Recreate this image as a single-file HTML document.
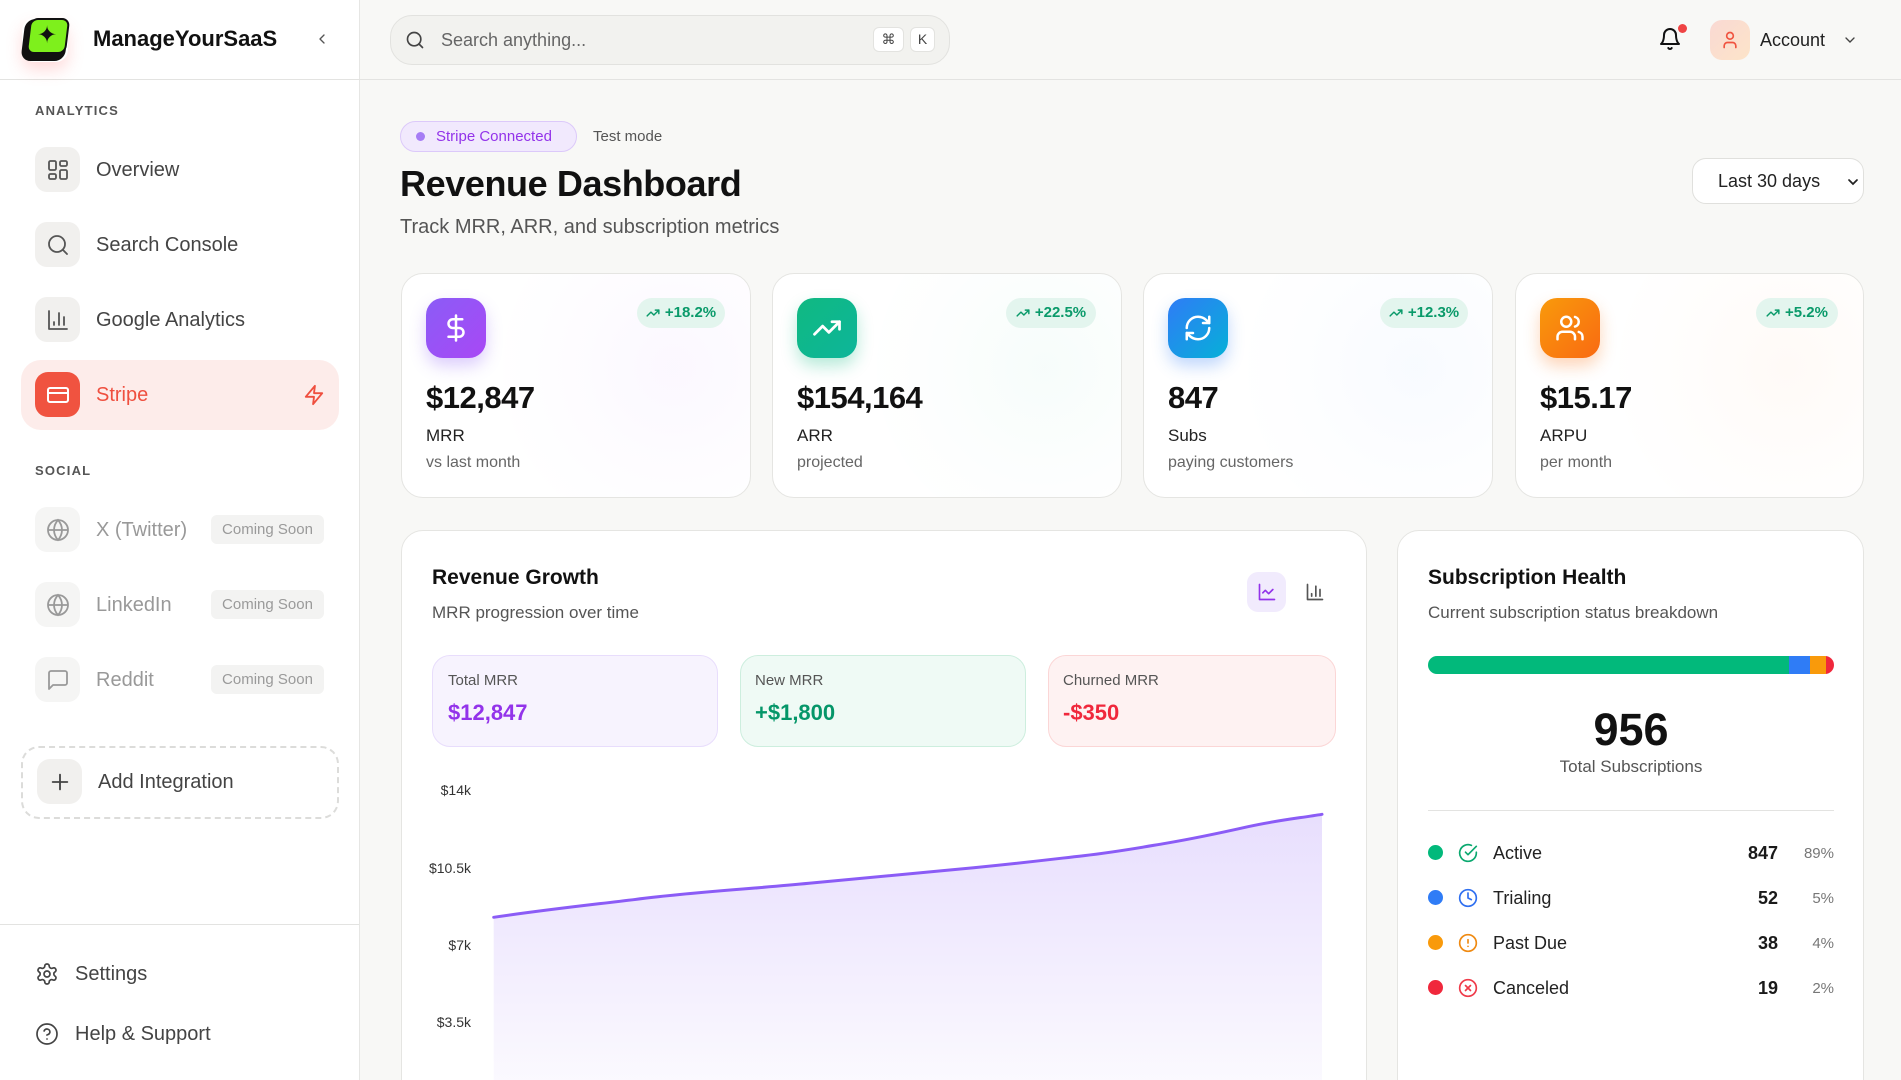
<!DOCTYPE html>
<html><head><meta charset="utf-8">
<style>
*{margin:0;padding:0;box-sizing:border-box}
html,body{width:1901px;height:1080px;overflow:hidden}
body{background:#f8f8f6;font-family:"Liberation Sans",sans-serif;color:#222;position:relative}
.a{position:absolute}
.t{position:absolute;white-space:nowrap;line-height:1}
svg{display:block}
.ib{position:absolute;width:45px;height:45px;border-radius:12px;background:#f1f0ee;display:flex;align-items:center;justify-content:center}
.nav{font-size:20px;color:#444}
.soon{position:absolute;left:211px;width:113px;height:29px;border-radius:6px;background:#f3f3f2;color:#9a9a9a;font-size:15px;line-height:29px;text-align:center}
.card{position:absolute;background:#fff;border:1px solid #e5e5e2;border-radius:22px;overflow:hidden}
.kicon{position:absolute;width:60px;height:60px;border-radius:17px;display:flex;align-items:center;justify-content:center}
.badge{position:absolute;top:298px;height:30px;border-radius:15px;background:#e3f5ee;color:#0a9a6a;font-size:15px;font-weight:bold;line-height:30px;display:flex;align-items:center;justify-content:center;gap:5px}
.kv{font-size:31px;font-weight:bold;color:#111;letter-spacing:-0.5px}
.kl{font-size:17px;color:#222}
.ks{font-size:16px;color:#666}
.mini{position:absolute;top:655px;height:92px;border-radius:18px}
.ml{font-size:15px;color:#555}
.mv{font-size:22px;font-weight:bold}
.yl{position:absolute;width:80px;left:391px;text-align:right;font-size:14px;color:#333;line-height:1}
.row{font-size:18px;color:#222}
.dot{position:absolute;left:1428px;width:15px;height:15px;border-radius:50%}
.cnt{position:absolute;width:80px;left:1698px;text-align:right;font-size:18px;font-weight:bold;color:#1a1a1a;line-height:1}
.pct{position:absolute;width:60px;left:1774px;text-align:right;font-size:15px;color:#777;line-height:1}
</style></head><body>

<!-- SIDEBAR -->
<div class="a" style="left:0;top:0;width:360px;height:1080px;background:#fff;border-right:1px solid #e6e6e4"></div>
<div class="a" style="left:0;top:79px;width:1901px;height:1px;background:#e3e3e1"></div>
<div class="a" style="left:0;top:924px;width:359px;height:1px;background:#e3e3e1"></div>

<!-- logo -->
<div class="a" style="left:22px;top:18px;width:46px;height:44px;border-radius:12px;box-shadow:0 8px 16px rgba(255,90,90,0.22)"></div>
<div class="a" style="left:23px;top:19px;width:44px;height:42px;border-radius:10px;background:#111;transform:skewX(-7deg)"></div>
<div class="a" style="left:28px;top:18px;width:40px;height:36px;border-radius:8px;background:#7ef01c;border:2px solid #111;transform:skewX(-7deg)"></div>
<div class="t" style="left:37px;top:24px;font-size:24px;color:#111">✦</div>
<div class="t" style="left:93px;top:28px;font-size:22px;font-weight:bold;color:#111">ManageYourSaaS</div>
<svg class="a" style="left:314px;top:31px" width="16" height="16" viewBox="0 0 24 24" fill="none" stroke="#555" stroke-width="2" stroke-linecap="round" stroke-linejoin="round"><polyline points="15 18 9 12 15 6"/></svg>

<div class="t" style="left:35px;top:104px;font-size:13px;font-weight:bold;color:#555;letter-spacing:1.2px">ANALYTICS</div>

<div class="ib" style="left:35px;top:147px"><svg width="24" height="24" viewBox="0 0 24 24" fill="none" stroke="#555" stroke-width="1.8" stroke-linejoin="round"><rect x="3" y="3" width="7" height="9" rx="1.5"/><rect x="14" y="3" width="7" height="5" rx="1.5"/><rect x="14" y="12" width="7" height="9" rx="1.5"/><rect x="3" y="16" width="7" height="5" rx="1.5"/></svg></div>
<div class="t nav" style="left:96px;top:160px">Overview</div>

<div class="ib" style="left:35px;top:222px"><svg width="24" height="24" viewBox="0 0 24 24" fill="none" stroke="#555" stroke-width="1.8" stroke-linecap="round"><circle cx="11" cy="11" r="8"/><line x1="21" y1="21" x2="16.65" y2="16.65"/></svg></div>
<div class="t nav" style="left:96px;top:235px">Search Console</div>

<div class="ib" style="left:35px;top:297px"><svg width="24" height="24" viewBox="0 0 24 24" fill="none" stroke="#555" stroke-width="1.8" stroke-linecap="round" stroke-linejoin="round"><path d="M3 3v18h18"/><path d="M18 17V9"/><path d="M13 17V5"/><path d="M8 17v-3"/></svg></div>
<div class="t nav" style="left:96px;top:310px">Google Analytics</div>

<div class="a" style="left:21px;top:360px;width:318px;height:70px;border-radius:20px;background:#fdecea"></div>
<div class="ib" style="left:35px;top:372px;background:#f05340;border-radius:13px"><svg width="24" height="24" viewBox="0 0 24 24" fill="none" stroke="#fff" stroke-width="2" stroke-linejoin="round"><rect x="2" y="5" width="20" height="14" rx="2"/><line x1="2" y1="10" x2="22" y2="10"/></svg></div>
<div class="t nav" style="left:96px;top:385px;color:#ef4f3f">Stripe</div>
<svg class="a" style="left:303px;top:384px" width="22" height="22" viewBox="0 0 24 24" fill="none" stroke="#ef4f3f" stroke-width="2" stroke-linejoin="round"><polygon points="13 2 3 14 12 14 11 22 21 10 12 10 13 2"/></svg>

<div class="t" style="left:35px;top:464px;font-size:13px;font-weight:bold;color:#555;letter-spacing:1.2px">SOCIAL</div>

<div class="ib" style="left:35px;top:507px;background:#f5f5f4"><svg width="24" height="24" viewBox="0 0 24 24" fill="none" stroke="#999" stroke-width="1.8"><circle cx="12" cy="12" r="10"/><line x1="2" y1="12" x2="22" y2="12"/><path d="M12 2a15.3 15.3 0 0 1 4 10 15.3 15.3 0 0 1-4 10 15.3 15.3 0 0 1-4-10 15.3 15.3 0 0 1 4-10z"/></svg></div>
<div class="t nav" style="left:96px;top:520px;color:#999">X (Twitter)</div>
<div class="soon" style="top:515px">Coming Soon</div>

<div class="ib" style="left:35px;top:582px;background:#f5f5f4"><svg width="24" height="24" viewBox="0 0 24 24" fill="none" stroke="#999" stroke-width="1.8"><circle cx="12" cy="12" r="10"/><line x1="2" y1="12" x2="22" y2="12"/><path d="M12 2a15.3 15.3 0 0 1 4 10 15.3 15.3 0 0 1-4 10 15.3 15.3 0 0 1-4-10 15.3 15.3 0 0 1 4-10z"/></svg></div>
<div class="t nav" style="left:96px;top:595px;color:#999">LinkedIn</div>
<div class="soon" style="top:590px">Coming Soon</div>

<div class="ib" style="left:35px;top:657px;background:#f5f5f4"><svg width="24" height="24" viewBox="0 0 24 24" fill="none" stroke="#999" stroke-width="1.8" stroke-linejoin="round"><path d="M21 15a2 2 0 0 1-2 2H7l-4 4V5a2 2 0 0 1 2-2h14a2 2 0 0 1 2 2z"/></svg></div>
<div class="t nav" style="left:96px;top:670px;color:#999">Reddit</div>
<div class="soon" style="top:665px">Coming Soon</div>

<div class="a" style="left:21px;top:746px;width:318px;height:73px;border:2px dashed #dcdcda;border-radius:18px"></div>
<div class="ib" style="left:37px;top:759px;width:45px;height:45px;border-radius:13px"><svg width="22" height="22" viewBox="0 0 24 24" fill="none" stroke="#444" stroke-width="2" stroke-linecap="round"><line x1="12" y1="4" x2="12" y2="20"/><line x1="4" y1="12" x2="20" y2="12"/></svg></div>
<div class="t nav" style="left:98px;top:772px">Add Integration</div>

<svg class="a" style="left:35px;top:962px" width="24" height="24" viewBox="0 0 24 24" fill="none" stroke="#444" stroke-width="1.7" stroke-linejoin="round"><path d="M12.22 2h-.44a2 2 0 0 0-2 2v.18a2 2 0 0 1-1 1.73l-.43.25a2 2 0 0 1-2 0l-.15-.08a2 2 0 0 0-2.73.73l-.22.38a2 2 0 0 0 .73 2.73l.15.1a2 2 0 0 1 1 1.720v.51a2 2 0 0 1-1 1.74l-.15.09a2 2 0 0 0-.73 2.73l.22.38a2 2 0 0 0 2.73.73l.15-.08a2 2 0 0 1 2 0l.43.25a2 2 0 0 1 1 1.73V20a2 2 0 0 0 2 2h.44a2 2 0 0 0 2-2v-.18a2 2 0 0 1 1-1.73l.43-.25a2 2 0 0 1 2 0l.15.08a2 2 0 0 0 2.73-.73l.22-.39a2 2 0 0 0-.73-2.73l-.15-.08a2 2 0 0 1-1-1.74v-.5a2 2 0 0 1 1-1.74l.15-.09a2 2 0 0 0 .73-2.73l-.22-.38a2 2 0 0 0-2.73-.73l-.15.08a2 2 0 0 1-2 0l-.43-.25a2 2 0 0 1-1-1.73V4a2 2 0 0 0-2-2z"/><circle cx="12" cy="12" r="3"/></svg>
<div class="t nav" style="left:75px;top:964px">Settings</div>
<svg class="a" style="left:35px;top:1022px" width="24" height="24" viewBox="0 0 24 24" fill="none" stroke="#444" stroke-width="1.7" stroke-linecap="round"><circle cx="12" cy="12" r="10"/><path d="M9.09 9a3 3 0 0 1 5.83 1c0 2-3 3-3 3"/><line x1="12" y1="17" x2="12.01" y2="17"/></svg>
<div class="t nav" style="left:75px;top:1024px">Help &amp; Support</div>

<!-- HEADER -->
<div class="a" style="left:390px;top:15px;width:560px;height:50px;border-radius:22px;background:#f2f2ef;border:1px solid #e2e2df"></div>
<svg class="a" style="left:405px;top:30px" width="20" height="20" viewBox="0 0 24 24" fill="none" stroke="#444" stroke-width="2" stroke-linecap="round"><circle cx="11" cy="11" r="8"/><line x1="21" y1="21" x2="16.65" y2="16.65"/></svg>
<div class="t" style="left:441px;top:31px;font-size:18px;color:#666">Search anything...</div>
<div class="a" style="left:873px;top:27px;width:31px;height:25px;border-radius:6px;background:#fff;border:1px solid #e3e3e0;font-size:14px;line-height:23px;text-align:center;color:#444">⌘</div>
<div class="a" style="left:910px;top:27px;width:25px;height:25px;border-radius:6px;background:#fff;border:1px solid #e3e3e0;font-size:14px;line-height:23px;text-align:center;color:#444">K</div>

<svg class="a" style="left:1658px;top:27px" width="24" height="24" viewBox="0 0 24 24" fill="none" stroke="#111" stroke-width="2" stroke-linecap="round" stroke-linejoin="round"><path d="M6 8a6 6 0 0 1 12 0c0 7 3 9 3 9H3s3-2 3-9"/><path d="M10.3 21a1.94 1.94 0 0 0 3.4 0"/></svg>
<div class="a" style="left:1678px;top:24px;width:9px;height:9px;border-radius:50%;background:#ef4444"></div>
<div class="a" style="left:1710px;top:20px;width:40px;height:40px;border-radius:12px;background:linear-gradient(135deg,#f9d9d3,#fde4c9);display:flex;align-items:center;justify-content:center"><svg width="20" height="20" viewBox="0 0 24 24" fill="none" stroke="#f0533f" stroke-width="2" stroke-linecap="round"><circle cx="12" cy="7" r="4"/><path d="M19 21v-2a4 4 0 0 0-4-4H9a4 4 0 0 0-4 4v2"/></svg></div>
<div class="t" style="left:1760px;top:31px;font-size:18px;color:#222">Account</div>
<svg class="a" style="left:1842px;top:32px" width="16" height="16" viewBox="0 0 24 24" fill="none" stroke="#444" stroke-width="2" stroke-linecap="round"><polyline points="6 9 12 15 18 9"/></svg>

<!-- TITLE AREA -->
<div class="a" style="left:400px;top:121px;width:177px;height:31px;border-radius:16px;background:#f1e9fd;border:1px solid #dcc9fa"></div>
<div class="a" style="left:416px;top:132px;width:9px;height:9px;border-radius:50%;background:#a67cf5"></div>
<div class="t" style="left:436px;top:129px;font-size:15px;color:#9333ea">Stripe Connected</div>
<div class="t" style="left:593px;top:129px;font-size:15px;color:#555">Test mode</div>
<div class="t" style="left:400px;top:166px;font-size:36px;font-weight:bold;color:#111;letter-spacing:-0.4px">Revenue Dashboard</div>
<div class="t" style="left:400px;top:217px;font-size:20px;color:#555">Track MRR, ARR, and subscription metrics</div>

<div class="a" style="left:1692px;top:158px;width:172px;height:46px;border-radius:14px;background:#fff;border:1px solid #e0e0dd"></div>
<div class="t" style="left:1718px;top:172px;font-size:18px;color:#222">Last 30 days</div>
<svg class="a" style="left:1845px;top:174px" width="16" height="16" viewBox="0 0 24 24" fill="none" stroke="#222" stroke-width="2.6" stroke-linecap="round"><polyline points="6 9 12 15 18 9"/></svg>

<!-- KPI CARDS -->
<div class="card" style="left:401px;top:273px;width:350px;height:225px;background:radial-gradient(circle at 78% 42%,rgba(168,85,247,0.045),rgba(168,85,247,0.015) 35%,rgba(255,255,255,0) 60%),#fff"></div>
<div class="card" style="left:772px;top:273px;width:350px;height:225px;background:radial-gradient(circle at 78% 42%,rgba(16,185,129,0.035),rgba(16,185,129,0.01) 35%,rgba(255,255,255,0) 60%),#fff"></div>
<div class="card" style="left:1143px;top:273px;width:350px;height:225px;background:radial-gradient(circle at 78% 42%,rgba(59,130,246,0.035),rgba(59,130,246,0.01) 35%,rgba(255,255,255,0) 60%),#fff"></div>
<div class="card" style="left:1515px;top:273px;width:349px;height:225px;background:radial-gradient(circle at 78% 42%,rgba(249,115,22,0.035),rgba(249,115,22,0.01) 35%,rgba(255,255,255,0) 60%),#fff"></div>

<div class="kicon" style="left:426px;top:298px;background:linear-gradient(135deg,#8b5cf6,#a848f5);box-shadow:0 8px 16px rgba(139,92,246,0.3)"><svg width="30" height="30" viewBox="0 0 24 24" fill="none" stroke="#fff" stroke-width="2" stroke-linecap="round"><line x1="12" y1="2" x2="12" y2="22"/><path d="M17 5H9.5a3.5 3.5 0 0 0 0 7h5a3.5 3.5 0 0 1 0 7H6"/></svg></div>
<div class="kicon" style="left:797px;top:298px;background:linear-gradient(135deg,#10b981,#0db59a);box-shadow:0 8px 16px rgba(16,185,129,0.3)"><svg width="30" height="30" viewBox="0 0 24 24" fill="none" stroke="#fff" stroke-width="2.2" stroke-linecap="round" stroke-linejoin="round"><polyline points="22 7 13.5 15.5 8.5 10.5 2 17"/><polyline points="16 7 22 7 22 13"/></svg></div>
<div class="kicon" style="left:1168px;top:298px;background:linear-gradient(135deg,#2f7cf6,#06b0d8);box-shadow:0 8px 16px rgba(47,124,246,0.3)"><svg width="30" height="30" viewBox="0 0 24 24" fill="none" stroke="#fff" stroke-width="2" stroke-linecap="round" stroke-linejoin="round"><path d="M3 12a9 9 0 0 1 9-9 9.75 9.75 0 0 1 6.74 2.74L21 8"/><path d="M21 3v5h-5"/><path d="M21 12a9 9 0 0 1-9 9 9.75 9.75 0 0 1-6.74-2.74L3 16"/><path d="M8 16H3v5"/></svg></div>
<div class="kicon" style="left:1540px;top:298px;background:linear-gradient(135deg,#f99a0b,#f96a12);box-shadow:0 8px 16px rgba(249,115,22,0.3)"><svg width="30" height="30" viewBox="0 0 24 24" fill="none" stroke="#fff" stroke-width="2" stroke-linecap="round"><path d="M16 21v-2a4 4 0 0 0-4-4H6a4 4 0 0 0-4 4v2"/><circle cx="9" cy="7" r="4"/><path d="M22 21v-2a4 4 0 0 0-3-3.87"/><path d="M16 3.13a4 4 0 0 1 0 7.75"/></svg></div>

<div class="badge" style="left:637px;width:88px"><svg width="14" height="14" viewBox="0 0 24 24" fill="none" stroke="#0a9a6a" stroke-width="2.5" stroke-linecap="round" stroke-linejoin="round"><polyline points="22 7 13.5 15.5 8.5 10.5 2 17"/><polyline points="16 7 22 7 22 13"/></svg>+18.2%</div>
<div class="badge" style="left:1006px;width:90px"><svg width="14" height="14" viewBox="0 0 24 24" fill="none" stroke="#0a9a6a" stroke-width="2.5" stroke-linecap="round" stroke-linejoin="round"><polyline points="22 7 13.5 15.5 8.5 10.5 2 17"/><polyline points="16 7 22 7 22 13"/></svg>+22.5%</div>
<div class="badge" style="left:1380px;width:88px"><svg width="14" height="14" viewBox="0 0 24 24" fill="none" stroke="#0a9a6a" stroke-width="2.5" stroke-linecap="round" stroke-linejoin="round"><polyline points="22 7 13.5 15.5 8.5 10.5 2 17"/><polyline points="16 7 22 7 22 13"/></svg>+12.3%</div>
<div class="badge" style="left:1756px;width:82px"><svg width="14" height="14" viewBox="0 0 24 24" fill="none" stroke="#0a9a6a" stroke-width="2.5" stroke-linecap="round" stroke-linejoin="round"><polyline points="22 7 13.5 15.5 8.5 10.5 2 17"/><polyline points="16 7 22 7 22 13"/></svg>+5.2%</div>

<div class="t kv" style="left:426px;top:382px">$12,847</div>
<div class="t kl" style="left:426px;top:427px">MRR</div>
<div class="t ks" style="left:426px;top:455px">vs last month</div>
<div class="t kv" style="left:797px;top:382px">$154,164</div>
<div class="t kl" style="left:797px;top:427px">ARR</div>
<div class="t ks" style="left:797px;top:455px">projected</div>
<div class="t kv" style="left:1168px;top:382px">847</div>
<div class="t kl" style="left:1168px;top:427px">Subs</div>
<div class="t ks" style="left:1168px;top:455px">paying customers</div>
<div class="t kv" style="left:1540px;top:382px">$15.17</div>
<div class="t kl" style="left:1540px;top:427px">ARPU</div>
<div class="t ks" style="left:1540px;top:455px">per month</div>

<!-- REVENUE GROWTH CARD -->
<div class="card" style="left:401px;top:530px;width:966px;height:600px"></div>
<div class="t" style="left:432px;top:567px;font-size:21px;font-weight:bold;color:#111">Revenue Growth</div>
<div class="t" style="left:432px;top:604px;font-size:17px;color:#555">MRR progression over time</div>
<div class="a" style="left:1247px;top:572px;width:39px;height:40px;border-radius:11px;background:#f1ebfd;display:flex;align-items:center;justify-content:center"><svg width="20" height="20" viewBox="0 0 24 24" fill="none" stroke="#9333ea" stroke-width="2" stroke-linecap="round" stroke-linejoin="round"><path d="M3 3v18h18"/><path d="m19 9-5 5-4-4-3 3"/></svg></div>
<svg class="a" style="left:1305px;top:582px" width="20" height="20" viewBox="0 0 24 24" fill="none" stroke="#555" stroke-width="2" stroke-linecap="round" stroke-linejoin="round"><path d="M3 3v18h18"/><path d="M18 17V9"/><path d="M13 17V5"/><path d="M8 17v-3"/></svg>

<div class="mini" style="left:432px;width:286px;background:#f7f3fe;border:1px solid #e8ddfc"></div>
<div class="mini" style="left:740px;width:286px;background:#effaf5;border:1px solid #cdeede"></div>
<div class="mini" style="left:1048px;width:288px;background:#fef2f2;border:1px solid #fbd6d6"></div>
<div class="t ml" style="left:448px;top:673px">Total MRR</div>
<div class="t mv" style="left:448px;top:702px;color:#9333ea">$12,847</div>
<div class="t ml" style="left:755px;top:673px">New MRR</div>
<div class="t mv" style="left:755px;top:702px;color:#059669">+$1,800</div>
<div class="t ml" style="left:1063px;top:673px">Churned MRR</div>
<div class="t mv" style="left:1063px;top:702px;color:#f0283c">-$350</div>

<div class="yl" style="top:783px">$14k</div>
<div class="yl" style="top:861px">$10.5k</div>
<div class="yl" style="top:938px">$7k</div>
<div class="yl" style="top:1015px">$3.5k</div>

<svg class="a" style="left:0;top:0" width="1901" height="1080" viewBox="0 0 1901 1080">
<defs><linearGradient id="ag" gradientUnits="userSpaceOnUse" x1="0" y1="814" x2="0" y2="1090"><stop offset="0" stop-color="#8b5cf6" stop-opacity="0.2"/><stop offset="1" stop-color="#8b5cf6" stop-opacity="0.03"/></linearGradient></defs>
<path d="M493.7,917.3 C550,909 590,905 644.6,898.3 S750,889 809,883.3 S920,873 973.7,867.7 S1050,859.5 1083.4,855.7 S1135,848.5 1165.7,843.3 S1220,833 1248,826.7 S1300,818 1322,814.3 L1322,1080 L493.7,1080 Z" fill="url(#ag)"/>
<path d="M493.7,917.3 C550,909 590,905 644.6,898.3 S750,889 809,883.3 S920,873 973.7,867.7 S1050,859.5 1083.4,855.7 S1135,848.5 1165.7,843.3 S1220,833 1248,826.7 S1300,818 1322,814.3" fill="none" stroke="#8b5cf6" stroke-width="3" stroke-linecap="round"/>
</svg>

<!-- SUBSCRIPTION HEALTH -->
<div class="card" style="left:1397px;top:530px;width:467px;height:600px"></div>
<div class="t" style="left:1428px;top:567px;font-size:21px;font-weight:bold;color:#111">Subscription Health</div>
<div class="t" style="left:1428px;top:604px;font-size:17px;color:#555">Current subscription status breakdown</div>
<div class="a" style="left:1428px;top:656px;width:406px;height:18px;border-radius:9px;overflow:hidden;display:flex">
<div style="width:361px;background:#02b97b"></div><div style="width:21px;background:#2f7cf6"></div><div style="width:16px;background:#f99a0b"></div><div style="width:8px;background:#f0283c"></div></div>
<div class="t" style="left:1431px;width:400px;text-align:center;top:707px;font-size:45px;font-weight:bold;color:#111">956</div>
<div class="t" style="left:1431px;width:400px;text-align:center;top:758px;font-size:17px;color:#555">Total Subscriptions</div>
<div class="a" style="left:1428px;top:810px;width:406px;height:1px;background:#e3e3e1"></div>

<div class="dot" style="top:845px;background:#02b97b"></div>
<svg class="a" style="left:1458px;top:843px" width="20" height="20" viewBox="0 0 24 24" fill="none" stroke="#0aa86f" stroke-width="2" stroke-linecap="round" stroke-linejoin="round"><path d="M22 11.08V12a10 10 0 1 1-5.93-9.14"/><polyline points="22 4 12 14.01 9 11.01"/></svg>
<div class="t row" style="left:1493px;top:844px">Active</div>
<div class="cnt" style="top:844px">847</div>
<div class="pct" style="top:846px">89%</div>

<div class="dot" style="top:890px;background:#2f7cf6"></div>
<svg class="a" style="left:1458px;top:888px" width="20" height="20" viewBox="0 0 24 24" fill="none" stroke="#2f6ff0" stroke-width="2" stroke-linecap="round"><circle cx="12" cy="12" r="10"/><polyline points="12 6 12 12 16 14"/></svg>
<div class="t row" style="left:1493px;top:889px">Trialing</div>
<div class="cnt" style="top:889px">52</div>
<div class="pct" style="top:891px">5%</div>

<div class="dot" style="top:935px;background:#f99a0b"></div>
<svg class="a" style="left:1458px;top:933px" width="20" height="20" viewBox="0 0 24 24" fill="none" stroke="#ef8a12" stroke-width="2" stroke-linecap="round"><circle cx="12" cy="12" r="10"/><line x1="12" y1="8" x2="12" y2="12"/><line x1="12" y1="16" x2="12.01" y2="16"/></svg>
<div class="t row" style="left:1493px;top:934px">Past Due</div>
<div class="cnt" style="top:934px">38</div>
<div class="pct" style="top:936px">4%</div>

<div class="dot" style="top:980px;background:#f0283c"></div>
<svg class="a" style="left:1458px;top:978px" width="20" height="20" viewBox="0 0 24 24" fill="none" stroke="#ef3b4a" stroke-width="2" stroke-linecap="round"><circle cx="12" cy="12" r="10"/><line x1="15" y1="9" x2="9" y2="15"/><line x1="9" y1="9" x2="15" y2="15"/></svg>
<div class="t row" style="left:1493px;top:979px">Canceled</div>
<div class="cnt" style="top:979px">19</div>
<div class="pct" style="top:981px">2%</div>

</body></html>
